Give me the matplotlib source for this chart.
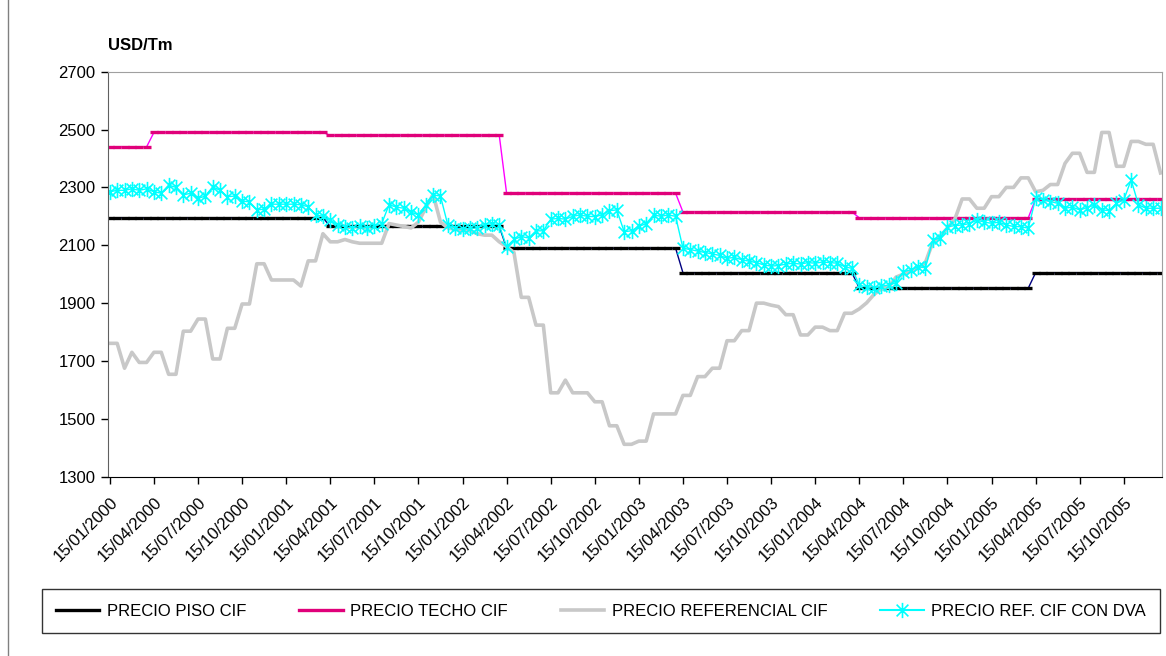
import numpy as np
import pandas as pd
import matplotlib
matplotlib.use("Agg")
import matplotlib.pyplot as plt
from matplotlib.path import Path
from matplotlib.lines import Line2D

plt.rcParams['font.family'] = ['Liberation Sans', 'DejaVu Sans']

# fechas quincenales (15 y fin de mes), ene-2000 a dic-2005
fechas = []
for mes in pd.date_range("2000-01-01", "2005-12-01", freq="MS"):
    fechas.append(mes + pd.Timedelta(days=14))
    fechas.append(mes + pd.offsets.MonthEnd(0))

etiquetas = ["15/01/2000", "15/04/2000", "15/07/2000", "15/10/2000",
             "15/01/2001", "15/04/2001", "15/07/2001", "15/10/2001",
             "15/01/2002", "15/04/2002", "15/07/2002", "15/10/2002",
             "15/01/2003", "15/04/2003", "15/07/2003", "15/10/2003",
             "15/01/2004", "15/04/2004", "15/07/2004", "15/10/2004",
             "15/01/2005", "15/04/2005", "15/07/2005", "15/10/2005"]

# precios piso y techo (tramos constantes)
piso = [2195] * 30 + [2165] * 24 + [2090] * 24 + [2005] * 24 + [1952] * 24 + [2005] * 18
techo = [2440] * 6 + [2490] * 24 + [2480] * 24 + [2280] * 24 + [2215] * 24 + [2195] * 24 + [2260] * 18

referencial = [1761, 1761, 1675, 1730, 1695, 1695, 1730, 1730, 1654, 1654,
               1803, 1803, 1845, 1845, 1707, 1707, 1813, 1813, 1897, 1897,
               2036, 2036, 1980, 1980, 1980, 1980, 1959, 2046, 2046, 2140,
               2112, 2112, 2120, 2112, 2107, 2107, 2107, 2107, 2175, 2170,
               2165, 2160, 2180, 2230, 2276, 2180, 2160, 2155, 2150, 2150,
               2140, 2135, 2135, 2112, 2095, 2075, 1920, 1920, 1824, 1824,
               1590, 1590, 1634, 1590, 1590, 1590, 1559, 1559, 1476, 1476,
               1412, 1412, 1423, 1423, 1517, 1517, 1517, 1517, 1581, 1581,
               1646, 1646, 1675, 1675, 1770, 1770, 1805, 1805, 1900, 1900,
               1893, 1888, 1860, 1860, 1790, 1790, 1817, 1817, 1805, 1805,
               1865, 1865, 1880, 1901, 1930, 1950, 1955, 1990, 2000, 2010,
               2020, 2040, 2110, 2130, 2160, 2190, 2260, 2260, 2228, 2228,
               2268, 2268, 2300, 2300, 2333, 2333, 2285, 2290, 2310, 2310,
               2383, 2418, 2418, 2352, 2352, 2490, 2490, 2373, 2373, 2459,
               2459, 2449, 2449, 2350]

con_dva = [2285, 2290, 2290, 2295, 2290, 2295, 2285, 2280, 2308, 2300,
           2274, 2280, 2262, 2270, 2302, 2290, 2268, 2270, 2253, 2250,
           2222, 2225, 2242, 2242, 2242, 2242, 2240, 2233, 2205, 2200,
           2187, 2170, 2164, 2160, 2165, 2160, 2165, 2175, 2240, 2232,
           2228, 2215, 2205, 2240, 2274, 2270, 2170, 2160, 2155, 2158,
           2160, 2170, 2175, 2170, 2095, 2120, 2130, 2125, 2150, 2150,
           2190, 2193, 2190, 2200, 2205, 2200, 2199, 2205, 2220, 2222,
           2147, 2150, 2165, 2175, 2205, 2200, 2205, 2200, 2090, 2085,
           2080, 2075, 2070, 2065, 2055, 2058, 2050, 2045, 2040, 2032,
           2028, 2030, 2035, 2038, 2035, 2040, 2038, 2042, 2040, 2038,
           2026, 2020, 1963, 1955, 1951, 1958, 1963, 1970, 2009, 2015,
           2026, 2022, 2118, 2125, 2164, 2168, 2170, 2175, 2187, 2180,
           2176, 2180, 2170, 2165, 2164, 2159, 2262, 2258, 2251, 2245,
           2228, 2232, 2222, 2230, 2239, 2222, 2220, 2245, 2257, 2326,
           2240, 2228, 2228, 2228]

x = np.arange(len(fechas))

# marcador asterisco tipo excel (x con linea vertical)
asterisco = Path([(-1, -1), (1, 1), (-1, 1), (1, -1), (0, -1.3), (0, 1.3)],
                 [Path.MOVETO, Path.LINETO, Path.MOVETO, Path.LINETO, Path.MOVETO, Path.LINETO])

fig = plt.figure(figsize=(11.66, 6.56), dpi=100)
ax = fig.add_axes([108 / 1166, 1 - 476.7 / 656, (1162 - 108) / 1166, 405 / 656])

ax.plot(x, piso, color='#000080', lw=1, marker='_', ms=6, mew=2.4, mec='black',
        label='PRECIO PISO CIF')
ax.plot(x, techo, color='#FF00FF', lw=1, marker='_', ms=6, mew=2.4, mec='#E0007A',
        label='PRECIO TECHO CIF')
ax.plot(x, referencial, color='#C8C8C8', lw=2.6, label='PRECIO REFERENCIAL CIF')
ax.plot(x, con_dva, color='#00FFFF', lw=1, marker=asterisco, ms=11, mew=1.2,
        mec='#00FFFF', mfc='none', label='PRECIO REF. CIF CON DVA')

ax.set_xlim(-0.25, 143.2)
ax.set_ylim(1300, 2700)
ax.set_yticks(range(1300, 2701, 200))
ax.set_xticks(range(0, len(fechas), 6))
ax.set_xticklabels(etiquetas, rotation=45, ha='right', va='top', rotation_mode='anchor')
ax.tick_params(axis='both', labelsize=12, direction='out', length=5, width=1, colors='black')
ax.tick_params(axis='x', pad=8)
ax.tick_params(axis='y', pad=4)

ax.spines['top'].set_color('#A0A0A0')
ax.spines['right'].set_color('#A0A0A0')
ax.spines['left'].set_color('#606060')
ax.spines['bottom'].set_color('black')

fig.text(108 / 1166, 1 - 46 / 656, 'USD/Tm', fontsize=12, fontweight='bold', va='center', ha='left')

# borde del area del grafico
fig.add_artist(Line2D([8 / 1166, 8 / 1166], [0, 1], color='#808080', lw=1))

leg_handles = [
    Line2D([], [], color='black', lw=2.4),
    Line2D([], [], color='#E0007A', lw=2.4),
    Line2D([], [], color='#C8C8C8', lw=2.6),
    Line2D([], [], color='#00FFFF', lw=1.5, marker=asterisco, ms=11, mew=1.2, mfc='none'),
]
leg = fig.legend(leg_handles, ['PRECIO PISO CIF', 'PRECIO TECHO CIF', 'PRECIO REFERENCIAL CIF',
                               'PRECIO REF. CIF CON DVA'],
                 loc='center', ncol=4, mode='expand', fontsize=12,
                 bbox_to_anchor=(42 / 1166, 1 - 634 / 656, (1160 - 42) / 1166, 46 / 656),
                 frameon=True, fancybox=False, edgecolor='black', handlelength=2.6,
                 handletextpad=0.45, borderaxespad=0, borderpad=0.85)
leg.get_frame().set_linewidth(1)

fig.savefig('out.png', dpi=100)
